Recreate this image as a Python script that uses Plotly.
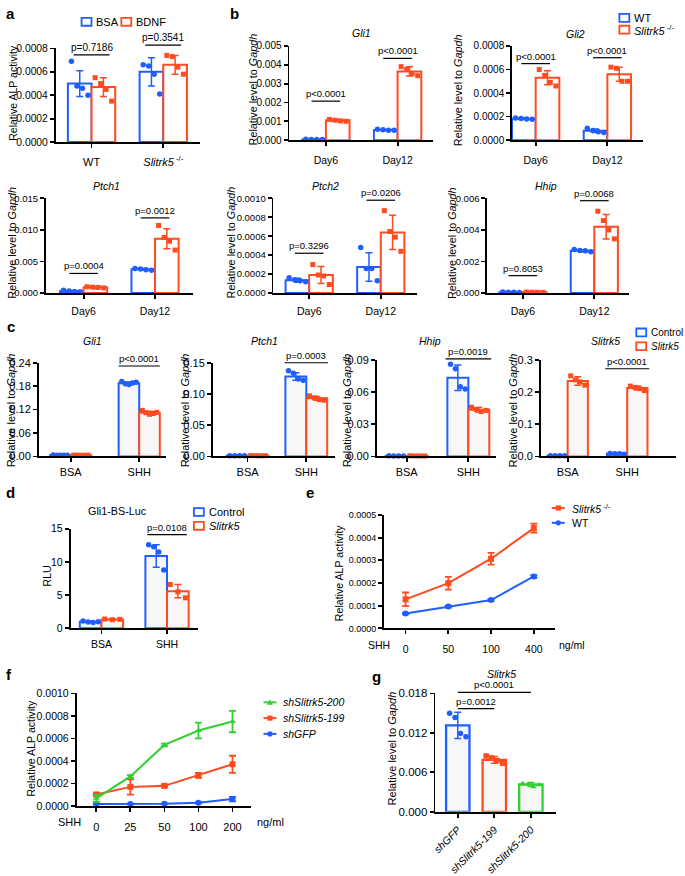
import plotly.graph_objects as go

W, H = 685, 876
FONT = "Liberation Sans, Arial, sans-serif"
BLUE = "#1f5eff"
RED = "#ff4b1f"
GREEN = "#2fd12f"
FILL = "#f7f7f7"

# ---------------- data ----------------
# panel a
a_groups = ["WT", "<i>Slitrk5</i><sup> -/-</sup>"]
a_bsa_mean = [0.00050, 0.00060]
a_bsa_sd = [0.00011, 0.00012]
a_bdnf_mean = [0.00047, 0.00066]
a_bdnf_sd = [0.00008, 0.00008]
a_bsa_pts = [[0.00069, 0.00048, 0.00046, 0.00040], [0.00066, 0.00065, 0.00058, 0.00041]]
a_bdnf_pts = [[0.00055, 0.00050, 0.00045, 0.00035], [0.00074, 0.00073, 0.00064, 0.00058]]
a_p = ["p=0.7186", "p=0.3541"]
a_p_y = [0.000744, 0.000828]
a_yticks = [0, 0.0002, 0.0004, 0.0006, 0.0008]
a_ytext = ["0.0000", "0.0002", "0.0004", "0.0006", "0.0008"]

# panel b
b_days = ["Day6", "Day12"]
gli1_wt_mean = [0.00004, 0.00054]
gli1_wt_sd = [0.00001, 0.00003]
gli1_ko_mean = [0.00105, 0.00365]
gli1_ko_sd = [0.00005, 0.00025]
gli1_wt_pts = [[0.00005, 0.00004, 0.00004, 0.00003], [0.00058, 0.00055, 0.00053, 0.00052]]
gli1_ko_pts = [[0.00110, 0.00106, 0.00102, 0.00100], [0.00390, 0.00375, 0.00352, 0.00342]]
gli1_p = ["p<0.0001", "p<0.0001"]
gli1_p_y = [0.00207, 0.00434]
gli1_yticks = [0, 0.001, 0.002, 0.003, 0.004, 0.005]
gli1_ytext = ["0.000", "0.001", "0.002", "0.003", "0.004", "0.005"]

gli2_wt_mean = [0.000182, 0.000080]
gli2_wt_sd = [0.000005, 0.000015]
gli2_ko_mean = [0.00053, 0.00056]
gli2_ko_sd = [0.00006, 0.00006]
gli2_wt_pts = [[0.000188, 0.000183, 0.000180, 0.000178], [0.000100, 0.000082, 0.000072, 0.000065]]
gli2_ko_pts = [[0.00060, 0.00055, 0.00049, 0.00046], [0.00062, 0.00061, 0.00050, 0.00050]]
gli2_p = ["p<0.0001", "p<0.0001"]
gli2_p_y = [0.00065, 0.00070]
gli2_yticks = [0, 0.0002, 0.0004, 0.0006, 0.0008]
gli2_ytext = ["0.0000", "0.0002", "0.0004", "0.0006", "0.0008"]

ptch1_wt_mean = [0.00030, 0.00375]
ptch1_wt_sd = [0.00008, 0.00012]
ptch1_ko_mean = [0.00090, 0.00860]
ptch1_ko_sd = [0.00008, 0.00160]
ptch1_wt_pts = [[0.00045, 0.00030, 0.00025, 0.00020], [0.00390, 0.00380, 0.00370, 0.00360]]
ptch1_ko_pts = [[0.00100, 0.00092, 0.00088, 0.00080], [0.01070, 0.00880, 0.00820, 0.00680]]
ptch1_p = ["p=0.0004", "p=0.0012"]
ptch1_p_y = [0.0031, 0.0119]
ptch1_yticks = [0, 0.005, 0.010, 0.015]
ptch1_ytext = ["0.000", "0.005", "0.010", "0.015"]

ptch2_wt_mean = [0.000135, 0.000275]
ptch2_wt_sd = [0.00002, 0.00015]
ptch2_ko_mean = [0.00019, 0.00064]
ptch2_ko_sd = [0.00009, 0.00018]
ptch2_wt_pts = [[0.00016, 0.00014, 0.00013, 0.00012], [0.00048, 0.00026, 0.00026, 0.00013]]
ptch2_ko_pts = [[0.00030, 0.00019, 0.00018, 0.00009], [0.00087, 0.00065, 0.00059, 0.00044]]
ptch2_p = ["p=0.3296", "p=0.0206"]
ptch2_p_y = [0.00042, 0.00098]
ptch2_yticks = [0, 0.0002, 0.0004, 0.0006, 0.0008, 0.0010]
ptch2_ytext = ["0.0000", "0.0002", "0.0004", "0.0006", "0.0008", "0.0010"]

hhip_wt_mean = [0.00005, 0.00268]
hhip_wt_sd = [0.00001, 0.00006]
hhip_ko_mean = [0.00005, 0.00420]
hhip_ko_sd = [0.00001, 0.00078]
hhip_wt_pts = [[0.00006, 0.00005, 0.00005, 0.00004], [0.00276, 0.00270, 0.00268, 0.00262]]
hhip_ko_pts = [[0.00006, 0.00005, 0.00005, 0.00004], [0.00518, 0.00459, 0.00400, 0.00343]]
hhip_p = ["p=0.8053", "p=0.0068"]
hhip_p_y = [0.0011, 0.00585]
hhip_yticks = [0, 0.002, 0.004, 0.006]
hhip_ytext = ["0.000", "0.002", "0.004", "0.006"]

# panel c
c_groups = ["BSA", "SHH"]
cgli1_ctrl_mean = [0.003, 0.1875]
cgli1_ctrl_sd = [0.0004, 0.003]
cgli1_ko_mean = [0.003, 0.112]
cgli1_ko_sd = [0.0004, 0.004]
cgli1_ctrl_pts = [[0.0035, 0.0030, 0.0028, 0.0032, 0.0030], [0.192, 0.186, 0.184, 0.188, 0.190]]
cgli1_ko_pts = [[0.0034, 0.0031, 0.0029, 0.0030, 0.0032], [0.118, 0.112, 0.108, 0.110, 0.113]]
cgli1_p_y = 0.2316
cgli1_yticks = [0, 0.06, 0.12, 0.18, 0.24]
cgli1_ytext = ["0.00", "0.06", "0.12", "0.18", "0.24"]

cptch1_ctrl_mean = [0.0012, 0.128]
cptch1_ctrl_sd = [0.0002, 0.006]
cptch1_ko_mean = [0.0012, 0.093]
cptch1_ko_sd = [0.0002, 0.003]
cptch1_ctrl_pts = [[0.0013, 0.0012, 0.0011, 0.0012], [0.137, 0.133, 0.124, 0.122]]
cptch1_ko_pts = [[0.0013, 0.0012, 0.0011, 0.0012], [0.097, 0.094, 0.091, 0.090]]
cptch1_p_y = 0.150
cptch1_yticks = [0, 0.05, 0.10, 0.15]
cptch1_ytext = ["0.00", "0.05", "0.10", "0.15"]

chhip_ctrl_mean = [0.0005, 0.0735]
chhip_ctrl_sd = [0.0001, 0.012]
chhip_ko_mean = [0.0005, 0.0435]
chhip_ko_sd = [0.0001, 0.0022]
chhip_ctrl_pts = [[0.0006, 0.0005, 0.0005, 0.0004], [0.086, 0.082, 0.065, 0.063]]
chhip_ko_pts = [[0.0006, 0.0005, 0.0005, 0.0004], [0.046, 0.044, 0.042, 0.043]]
chhip_p_y = 0.0912
chhip_yticks = [0, 0.03, 0.06, 0.09]
chhip_ytext = ["0.00", "0.03", "0.06", "0.09"]

cslit_ctrl_mean = [0.002, 0.008]
cslit_ctrl_sd = [0.0004, 0.001]
cslit_ko_mean = [0.235, 0.213]
cslit_ko_sd = [0.013, 0.006]
cslit_ctrl_pts = [[0.0022, 0.0020, 0.0019, 0.0021], [0.009, 0.008, 0.008, 0.007]]
cslit_ko_pts = [[0.251, 0.238, 0.232, 0.222], [0.219, 0.215, 0.211, 0.205]]
cslit_p_y = 0.273
cslit_yticks = [0, 0.1, 0.2, 0.3]
cslit_ytext = ["0.0", "0.1", "0.2", "0.3"]

c_p = ["p<0.0001", "p=0.0003", "p=0.0019", "p<0.0001"]

# panel d
d_groups = ["BSA", "SHH"]
d_ctrl_mean = [1.0, 10.9]
d_ctrl_sd = [0.1, 1.7]
d_ko_mean = [1.35, 5.6]
d_ko_sd = [0.08, 1.0]
d_ctrl_pts = [[1.1, 0.95, 0.9, 1.0], [12.6, 12.3, 11.5, 8.8]]
d_ko_pts = [[1.4, 1.3, 1.35], [6.6, 5.5, 4.6]]
d_p = "p=0.0108"
d_p_y = 14.1
d_yticks = [0, 5, 10, 15]
d_ytext = ["0", "5", "10", "15"]

# panel e
e_doses = ["0", "50", "100", "400"]
e_ko_mean = [0.000128, 0.000199, 0.000307, 0.000442]
e_ko_sd = [0.000030, 0.000028, 0.000026, 0.000020]
e_wt_mean = [0.000065, 0.000096, 0.000125, 0.000229]
e_wt_sd = [0.000003, 0.000004, 0.000005, 0.000006]
e_yticks = [0, 0.0001, 0.0002, 0.0003, 0.0004, 0.0005]
e_ytext = ["0.0000", "0.0001", "0.0002", "0.0003", "0.0004", "0.0005"]

# panel f
f_doses = ["0", "25", "50", "100", "200"]
f_sh200_mean = [0.000067, 0.000262, 0.000542, 0.000670, 0.000750]
f_sh200_sd = [0.000030, 0.000012, 0.000012, 0.000070, 0.000095]
f_sh199_mean = [0.000102, 0.000169, 0.000178, 0.000271, 0.000370]
f_sh199_sd = [0.000012, 0.000068, 0.000010, 0.000022, 0.000076]
f_gfp_mean = [0.000017, 0.000017, 0.000020, 0.000029, 0.000061]
f_gfp_sd = [0.000003, 0.000003, 0.000003, 0.000004, 0.000020]
f_yticks = [0, 0.0002, 0.0004, 0.0006, 0.0008, 0.0010]
f_ytext = ["0.0000", "0.0002", "0.0004", "0.0006", "0.0008", "0.0010"]

# panel g
g_groups = ["<i>shGFP</i>", "<i>shSlitrk5-199</i>", "<i>shSlitrk5-200</i>"]
g_mean = [0.01315, 0.0079, 0.00415]
g_sd = [0.0020, 0.0005, 0.0003]
g_pts = [[0.0150, 0.01435, 0.0119, 0.0114], [0.0085, 0.0082, 0.0078, 0.0074], [0.0043, 0.0042, 0.0038, 0.0041]]
g_p = ["p=0.0012", "p<0.0001"]
g_p_y = [0.0157, 0.01815]
g_yticks = [0, 0.006, 0.012, 0.018]
g_ytext = ["0.000", "0.006", "0.012", "0.018"]

# ---------------- helpers ----------------
fig = go.Figure()
ann = []
shp = []
count = [0]


def panel(L, R, T, B, xr, ymax, yt, ytl, xt, xtl, yfs=10, xfs=10.5, lw=1.8,
          xangle=0, standoff=3):
    count[0] += 1
    s = "" if count[0] == 1 else str(count[0])
    xref, yref = "x" + s, "y" + s
    common = dict(showline=True, linecolor="black", linewidth=lw, ticks="outside",
                  ticklen=4, tickwidth=lw, tickcolor="black", tickmode="array",
                  showgrid=False, zeroline=False, fixedrange=True)
    fig.update_layout(**{
        "xaxis" + s: dict(domain=[L / W, R / W], range=list(xr), anchor=yref,
                          tickvals=xt, ticktext=xtl, tickangle=xangle,
                          ticklabelstandoff=standoff,
                          tickfont=dict(family=FONT, size=xfs, color="black"), **common),
        "yaxis" + s: dict(domain=[1 - B / H, 1 - T / H], range=[0, ymax], anchor=xref,
                          tickvals=yt, ticktext=ytl,
                          tickfont=dict(family=FONT, size=yfs, color="black"), **common),
    })

    def fx(v):
        return (L + (v - xr[0]) / (xr[1] - xr[0]) * (R - L)) / W

    def fy(v):
        return 1 - (B - v / ymax * (B - T)) / H

    return xref, yref, fx, fy


def bars(xref, yref, means, sds, color, offset, width, fill="white", lw=2.0):
    xs = [i + offset for i in range(len(means))]
    fig.add_trace(go.Bar(x=xs, y=means, width=[width] * len(means), xaxis=xref, yaxis=yref,
                         marker=dict(color=fill, line=dict(color=color, width=lw)),
                         error_y=dict(type="data", array=sds, color=color, thickness=1.5, width=3.5),
                         showlegend=False, hoverinfo="skip"))


def points(xref, yref, pts, color, symbol, offset, width, size=5.5):
    xs, ys = [], []
    for i, grp in enumerate(pts):
        n = len(grp)
        step = width * 0.7 / (n - 1) if n > 1 else 0
        for j, v in enumerate(grp):
            xs.append(i + offset + (j - (n - 1) / 2) * step)
            ys.append(v)
    fig.add_trace(go.Scatter(x=xs, y=ys, mode="markers", xaxis=xref, yaxis=yref,
                             marker=dict(color=color, symbol=symbol, size=size, line=dict(width=0)),
                             cliponaxis=False, showlegend=False, hoverinfo="skip"))


def pbar(fx, fy, x0, x1, y, label, fs=9.5):
    shp.append(dict(type="line", xref="paper", yref="paper", x0=fx(x0), x1=fx(x1),
                    y0=fy(y), y1=fy(y), line=dict(color="black", width=1.2)))
    ann.append(dict(xref="paper", yref="paper", x=(fx(x0) + fx(x1)) / 2, y=fy(y), text=label,
                    showarrow=False, xanchor="center", yanchor="bottom", yshift=0,
                    font=dict(family=FONT, size=fs, color="black")))


def txt(x, y, s, size=10.5, xanchor="center", yanchor="middle", angle=0):
    ann.append(dict(xref="paper", yref="paper", x=x / W, y=1 - y / H, text=s, showarrow=False,
                    xanchor=xanchor, yanchor=yanchor, textangle=angle,
                    font=dict(family=FONT, size=size, color="black")))


def letter(x, y, s):
    txt(x, y, "<b>" + s + "</b>", size=15, xanchor="left", yanchor="middle")


def legend_box(x, y, color, label, size=11):
    shp.append(dict(type="rect", xref="paper", yref="paper", x0=x / W, x1=(x + 10) / W,
                    y0=1 - (y + 4) / H, y1=1 - (y - 4) / H,
                    line=dict(color=color, width=1.8), fillcolor="white"))
    txt(x + 13, y, label, size, xanchor="left")


def legend_line(x, y, color, symbol, label, size=10.5):
    shp.append(dict(type="line", xref="paper", yref="paper", x0=x / W, x1=(x + 13) / W,
                    y0=1 - y / H, y1=1 - y / H, line=dict(color=color, width=2)))
    cx = x + 6.5
    if symbol == "square":
        shp.append(dict(type="rect", xref="paper", yref="paper", x0=(cx - 2.6) / W, x1=(cx + 2.6) / W,
                        y0=1 - (y + 2.6) / H, y1=1 - (y - 2.6) / H, line=dict(width=0), fillcolor=color))
    elif symbol == "circle":
        shp.append(dict(type="circle", xref="paper", yref="paper", x0=(cx - 2.6) / W, x1=(cx + 2.6) / W,
                        y0=1 - (y + 2.6) / H, y1=1 - (y - 2.6) / H, line=dict(width=0), fillcolor=color))
    else:
        path = "M {} {} L {} {} L {} {} Z".format((cx - 3) / W, 1 - (y + 2.5) / H, (cx + 3) / W,
                                                  1 - (y + 2.5) / H, cx / W, 1 - (y - 3) / H)
        shp.append(dict(type="path", xref="paper", yref="paper", path=path, line=dict(width=0),
                        fillcolor=color))
    txt(x + 18, y, label, size, xanchor="left")


def bar_panel(geom, xr, ymax, yt, ytl, groups, m1, s1, p1, m2, s2, p2, c1, c2, width,
              fill, pts_labels, p_y, p_half, yfs, xfs, standoff, pfs=9.5):
    L, R, T, B = geom
    xref, yref, fx, fy = panel(L, R, T, B, xr, ymax, yt, ytl, [0, 1], groups, yfs=yfs,
                               xfs=xfs, standoff=standoff)
    bars(xref, yref, m1, s1, c1, -width / 2, width, fill)
    bars(xref, yref, m2, s2, c2, width / 2, width, fill)
    points(xref, yref, p1, c1, "circle", -width / 2, width)
    points(xref, yref, p2, c2, "square", width / 2, width, size=5)
    for i, (lab, yv) in enumerate(zip(pts_labels, p_y)):
        if lab:
            pbar(fx, fy, i - p_half, i + p_half, yv, lab, pfs)
    return fx, fy


# ---------------- panel a ----------------
letter(0, 8, "a")
bar_panel((52, 197, 43, 138), (-0.5, 1.51), 0.0008, a_yticks, a_ytext, a_groups,
          a_bsa_mean, a_bsa_sd, a_bsa_pts, a_bdnf_mean, a_bdnf_sd, a_bdnf_pts,
          BLUE, RED, 0.33, "white", a_p, a_p_y, 0.25, 10.3, 11, 5, pfs=10)
txt(9, 88, "Relative ALP activity", 10.5, angle=-90)
legend_box(78, 16, BLUE, "BSA", 11)
legend_box(118, 16, RED, "BDNF", 11)

# ---------------- panel b ----------------
letter(225, 8, "b")
bar_panel((287, 432, 40.5, 136), (-0.51, 1.5), 0.005, gli1_yticks, gli1_ytext, b_days,
          gli1_wt_mean, gli1_wt_sd, gli1_wt_pts, gli1_ko_mean, gli1_ko_sd, gli1_ko_pts,
          BLUE, RED, 0.33, "white", gli1_p, gli1_p_y, 0.2, 10, 10.5, 5)
txt(360, 27, "<i>Gli1</i>", 10.5)
txt(250, 85, "Relative level to <i>Gapdh</i>", 10.8, angle=-90)

bar_panel((511, 643, 40.5, 136), (-0.33, 1.5), 0.0008, gli2_yticks, gli2_ytext, b_days,
          gli2_wt_mean, gli2_wt_sd, gli2_wt_pts, gli2_ko_mean, gli2_ko_sd, gli2_ko_pts,
          BLUE, RED, 0.33, "white", gli2_p, gli2_p_y, 0.2, 10, 10.5, 5)
txt(575, 28, "<i>Gli2</i>", 10.5)
txt(457, 85, "Relative level to <i>Gapdh</i>", 10.8, angle=-90)
legend_box(619, 12, BLUE, "WT", 11)
legend_box(619, 24, RED, "<i>Slitrk5</i><sup> -/-</sup>", 11)

bar_panel((42, 190, 195, 291), (-0.53, 1.53), 0.015, ptch1_yticks, ptch1_ytext, b_days,
          ptch1_wt_mean, ptch1_wt_sd, ptch1_wt_pts, ptch1_ko_mean, ptch1_ko_sd, ptch1_ko_pts,
          BLUE, RED, 0.33, "white", ptch1_p, ptch1_p_y, 0.2, 9.5, 10.5, 4)
txt(103, 183, "<i>Ptch1</i>", 10.5)
txt(8, 240, "Relative level to <i>Gapdh</i>", 10.8, angle=-90)

bar_panel((271, 415, 195, 291), (-0.5, 1.5), 0.001, ptch2_yticks, ptch2_ytext, b_days,
          ptch2_wt_mean, ptch2_wt_sd, ptch2_wt_pts, ptch2_ko_mean, ptch2_ko_sd, ptch2_ko_pts,
          BLUE, RED, 0.33, "white", ptch2_p, ptch2_p_y, 0.2, 9.5, 10.5, 4)
txt(323, 183, "<i>Ptch2</i>", 10.5)
txt(228, 240, "Relative level to <i>Gapdh</i>", 10.8, angle=-90)

bar_panel((486, 629, 195, 291), (-0.5, 1.49), 0.006, hhip_yticks, hhip_ytext, b_days,
          hhip_wt_mean, hhip_wt_sd, hhip_wt_pts, hhip_ko_mean, hhip_ko_sd, hhip_ko_pts,
          BLUE, RED, 0.33, "white", hhip_p, hhip_p_y, 0.2, 9.5, 10.5, 4)
txt(545, 183, "<i>Hhip</i>", 10.5)
txt(450, 240, "Relative level to <i>Gapdh</i>", 10.8, angle=-90)

# ---------------- panel c ----------------
letter(1, 325, "c")
bar_panel((35, 163, 361.7, 456.7), (-0.464, 1.391), 0.24, cgli1_yticks, cgli1_ytext, c_groups,
          cgli1_ctrl_mean, cgli1_ctrl_sd, cgli1_ctrl_pts, cgli1_ko_mean, cgli1_ko_sd, cgli1_ko_pts,
          BLUE, RED, 0.30, FILL, [None, c_p[0]], [0, cgli1_p_y], 0.3, 11, 11, 1, pfs=9.5)
txt(89, 340, "<i>Gli1</i>", 10.5)
txt(7, 410, "Relative level to <i>Gapdh</i>", 11, angle=-90)

bar_panel((210, 333, 361.7, 456.7), (-0.593, 1.49), 0.15, cptch1_yticks, cptch1_ytext, c_groups,
          cptch1_ctrl_mean, cptch1_ctrl_sd, cptch1_ctrl_pts, cptch1_ko_mean, cptch1_ko_sd, cptch1_ko_pts,
          BLUE, RED, 0.356, FILL, [None, c_p[1]], [0, cptch1_p_y], 0.37, 11, 11, 1, pfs=9.5)
txt(262, 340, "<i>Ptch1</i>", 10.5)
txt(182, 410, "Relative level to <i>Gapdh</i>", 11, angle=-90)

bar_panel((375, 495, 359, 456.7), (-0.484, 1.45), 0.09, chhip_yticks, chhip_ytext, c_groups,
          chhip_ctrl_mean, chhip_ctrl_sd, chhip_ctrl_pts, chhip_ko_mean, chhip_ko_sd, chhip_ko_pts,
          BLUE, RED, 0.34, FILL, [None, c_p[2]], [0, chhip_p_y], 0.37, 11, 11, 1, pfs=9.5)
txt(428, 340, "<i>Hhip</i>", 10.5)
txt(345, 410, "Relative level to <i>Gapdh</i>", 11, angle=-90)

bar_panel((540, 676, 359, 456.7), (-0.45, 1.82), 0.3, cslit_yticks, cslit_ytext, c_groups,
          cslit_ctrl_mean, cslit_ctrl_sd, cslit_ctrl_pts, cslit_ko_mean, cslit_ko_sd, cslit_ko_pts,
          BLUE, RED, 0.34, FILL, [None, c_p[3]], [0, cslit_p_y], 0.37, 11, 11, 1, pfs=9.5)
txt(605, 340, "<i>Slitrk5</i>", 10.5)
txt(512, 410, "Relative level to <i>Gapdh</i>", 11, angle=-90)
legend_box(636, 331, BLUE, "Control", 10)
legend_box(636, 345, RED, "<i>Slitrk5</i>", 10)

# ---------------- panel d ----------------
letter(0, 493, "d")
bar_panel((67, 195, 530, 631), (-0.47, 1.47), 15, d_yticks, d_ytext, d_groups,
          d_ctrl_mean, d_ctrl_sd, d_ctrl_pts, d_ko_mean, d_ko_sd, d_ko_pts,
          BLUE, RED, 0.33, FILL, [None, d_p], [0, d_p_y], 0.3, 10.5, 10.5, 1, pfs=9.5)
txt(114, 512, "Gli1-BS-Luc", 10.8)
txt(43, 578, "RLU", 10.8, angle=-90)
legend_box(191, 513, BLUE, "Control", 11)
legend_box(191, 527, RED, "<i>Slitrk5</i>", 11)

# ---------------- panel e ----------------
letter(302, 493, "e")
xe, ye, fxe, fye = panel(382, 554, 516, 631, (-0.51, 3.49), 0.0005, e_yticks, e_ytext,
                         list(range(len(e_doses))), e_doses, yfs=9, xfs=10.5, lw=1.8, standoff=6)
fig.add_trace(go.Scatter(x=list(range(len(e_doses))), y=e_wt_mean, xaxis=xe, yaxis=ye,
                         mode="lines+markers", line=dict(color=BLUE, width=2),
                         marker=dict(color=BLUE, symbol="circle", size=6),
                         error_y=dict(type="data", array=e_wt_sd, color=BLUE, thickness=1.8, width=3.5),
                         cliponaxis=False, showlegend=False, hoverinfo="skip"))
fig.add_trace(go.Scatter(x=list(range(len(e_doses))), y=e_ko_mean, xaxis=xe, yaxis=ye,
                         mode="lines+markers", line=dict(color=RED, width=2),
                         marker=dict(color=RED, symbol="square", size=6),
                         error_y=dict(type="data", array=e_ko_sd, color=RED, thickness=1.8, width=3.5),
                         cliponaxis=False, showlegend=False, hoverinfo="skip"))
txt(337, 575, "Relative ALP activity", 10.6, angle=-90)
txt(377, 648, "SHH", 10.5)
txt(556, 648, "ng/ml", 10.5, xanchor="left")
legend_line(551, 509, RED, "square", "<i>Slitrk5</i><sup> -/-</sup>", 10.5)
legend_line(551, 524, BLUE, "circle", "WT", 10.5)

# ---------------- panel f ----------------
letter(0, 678, "f")
xf, yf, fxf, fyf = panel(73, 248, 697, 811, (-0.58, 4.53), 0.001, f_yticks, f_ytext,
                         list(range(len(f_doses))), f_doses, yfs=10.5, xfs=11, lw=1.8, standoff=6)
for mean, sd, col, sym in [(f_gfp_mean, f_gfp_sd, BLUE, "circle"),
                           (f_sh199_mean, f_sh199_sd, RED, "square"),
                           (f_sh200_mean, f_sh200_sd, GREEN, "triangle-up")]:
    fig.add_trace(go.Scatter(x=list(range(len(f_doses))), y=mean, xaxis=xf, yaxis=yf,
                             mode="lines+markers", line=dict(color=col, width=2),
                             marker=dict(color=col, symbol=sym, size=6),
                             error_y=dict(type="data", array=sd, color=col, thickness=1.8, width=3.5),
                             cliponaxis=False, showlegend=False, hoverinfo="skip"))
txt(27, 753, "Relative ALP activity", 10.6, angle=-90)
txt(66, 827, "SHH", 11)
txt(252, 827, "ng/ml", 11, xanchor="left")
legend_line(261, 706, GREEN, "triangle", "<i>shSlitrk5-200</i>", 10.5)
legend_line(261, 722, RED, "square", "<i>shSlitrk5-199</i>", 10.5)
legend_line(261, 738, BLUE, "circle", "<i>shGFP</i>", 10.5)

# ---------------- panel g ----------------
letter(368, 680, "g")
xg, yg, fxg, fyg = panel(434, 555, 697, 817, (-0.61, 2.68), 0.018, g_yticks, g_ytext,
                         list(range(len(g_groups))), g_groups, yfs=11.5, xfs=10.5, lw=1.8,
                         xangle=-45, standoff=2)
g_colors = [BLUE, RED, GREEN]
g_symbols = ["circle", "square", "triangle-up"]
for i in range(len(g_groups)):
    fig.add_trace(go.Bar(x=[i], y=[g_mean[i]], width=[0.64], xaxis=xg, yaxis=yg,
                         marker=dict(color=FILL, line=dict(color=g_colors[i], width=2.3)),
                         error_y=dict(type="data", array=[g_sd[i]], color=g_colors[i], thickness=1.5, width=3.5),
                         showlegend=False, hoverinfo="skip"))
for i in range(len(g_groups)):
    n = len(g_pts[i])
    step = 0.64 * 0.7 / (n - 1)
    fig.add_trace(go.Scatter(x=[i + (j - (n - 1) / 2) * step for j in range(n)], y=g_pts[i],
                             xaxis=xg, yaxis=yg, mode="markers",
                             marker=dict(color=g_colors[i], symbol=g_symbols[i], size=5.5),
                             cliponaxis=False, showlegend=False, hoverinfo="skip"))
pbar(fxg, fyg, 0, 1, g_p_y[0], g_p[0], 9.5)
pbar(fxg, fyg, 0, 2, g_p_y[1], g_p[1], 9.5)
txt(500, 677, "<i>Slitrk5</i>", 10.5)
txt(390, 753, "Relative level to <i>Gapdh</i>", 11, angle=-90)

fig.update_layout(width=W, height=H, margin=dict(l=0, r=0, t=0, b=0),
                  paper_bgcolor="white", plot_bgcolor="rgba(0,0,0,0)",
                  barmode="overlay", showlegend=False,
                  font=dict(family=FONT, color="black"),
                  shapes=shp, annotations=ann)
fig.write_html("out.html", config={"displayModeBar": False, "staticPlot": True},
               post_script="document.body.style.margin='0';document.body.style.overflow='hidden';")
